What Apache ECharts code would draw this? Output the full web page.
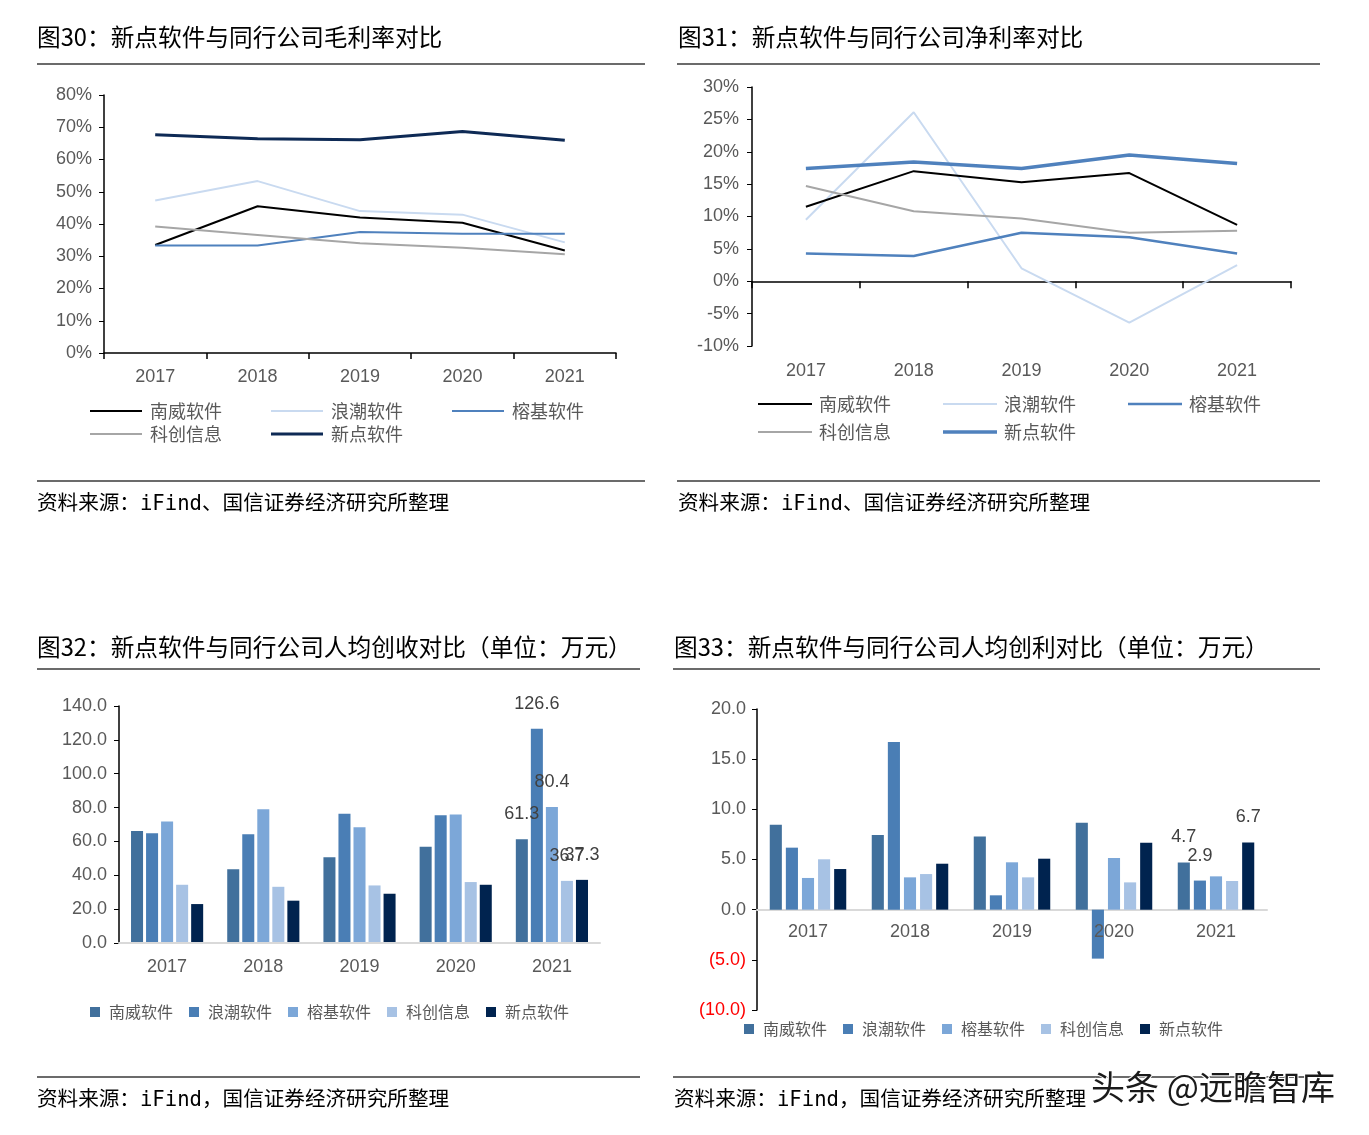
<!DOCTYPE html>
<html><head><meta charset="utf-8">
<script src="https://cdn.jsdelivr.net/npm/echarts@6/dist/echarts.min.js"></script>
<style>
html,body{margin:0;padding:0;background:#fff;}
#wrap{position:relative;width:1369px;height:1135px;overflow:hidden;}
.p{position:absolute;}
</style></head><body>
<div id="wrap">
<div id="c1" class="p" style="left:0;top:0;width:660px;height:560px"></div>
<div id="c2" class="p" style="left:660px;top:0;width:709px;height:560px"></div>
<div id="c3" class="p" style="left:0;top:560px;width:660px;height:575px"></div>
<div id="c4" class="p" style="left:660px;top:560px;width:709px;height:575px"></div>
</div>
<script>
// ---------- DATA ----------
const years = ['2017', '2018', '2019', '2020', '2021'];
const companies = ['南威软件', '浪潮软件', '榕基软件', '科创信息', '新点软件'];

// 图30 毛利率 (%)
const gm_nanwei = [33.5, 45.5, 42.0, 40.4, 31.8];
const gm_langchao = [47.3, 53.3, 44.0, 42.9, 34.3];
const gm_rongji = [33.3, 33.3, 37.5, 37.0, 37.0];
const gm_kechuang = [39.2, 36.6, 34.0, 32.6, 30.6];
const gm_xindian = [67.7, 66.4, 66.1, 68.7, 66.0];
const gmTicks = [0, 80, 10];

// 图31 净利率 (%)
const nm_nanwei = [11.5, 17.0, 15.3, 16.7, 8.7];
const nm_langchao = [9.5, 26.1, 2.0, -6.4, 2.5];
const nm_rongji = [4.3, 3.9, 7.5, 6.8, 4.3];
const nm_kechuang = [14.7, 10.8, 9.7, 7.5, 7.8];
const nm_xindian = [17.4, 18.4, 17.4, 19.5, 18.2];
const nmTicks = [-10, 30, 5];

// 图32 人均创收 (万元)
const rev_nanwei = [66.1, 43.5, 50.7, 56.8, 61.3];
const rev_langchao = [64.9, 64.3, 76.3, 75.5, 126.6];
const rev_rongji = [71.8, 79.0, 68.4, 75.9, 80.4];
const rev_kechuang = [34.4, 33.2, 34.0, 36.0, 36.7];
const rev_xindian = [23.0, 25.0, 29.1, 34.4, 37.3];
const revTicks = [0, 140, 20];
const revLabeled2021 = [true, true, true, true, true];

// 图33 人均创利 (万元)
const pro_nanwei = [8.47, 7.44, 7.28, 8.67, 4.7];
const pro_langchao = [6.18, 16.7, 1.43, -4.88, 2.9];
const pro_rongji = [3.16, 3.22, 4.72, 5.15, 3.32];
const pro_kechuang = [5.02, 3.55, 3.22, 2.72, 2.86];
const pro_xindian = [4.05, 4.58, 5.08, 6.68, 6.7];
const proTicks = [-10, 20, 5];
const proLabeled2021 = [true, true, false, false, true];

// ---------- TEXT ----------
const title30 = '图30：新点软件与同行公司毛利率对比';
const title31 = '图31：新点软件与同行公司净利率对比';
const title32 = '图32：新点软件与同行公司人均创收对比（单位：万元）';
const title33 = '图33：新点软件与同行公司人均创利对比（单位：万元）';
const source12 = '资料来源：iFind、国信证券经济研究所整理';
const source34 = '资料来源：iFind，国信证券经济研究所整理';
const watermark = '头条 @远瞻智库';

// ---------- STYLE ----------
const FONT = '"Liberation Sans", Arial, "Noto Sans CJK SC", sans-serif';
const CJK = '"Noto Sans CJK SC", "Liberation Sans", sans-serif';
const SRC = '"DejaVu Sans Mono", "Noto Sans CJK SC", monospace';
const AXC = '#595959';
const barColors = ['#41709C', '#4A7EB5', '#7CA7D8', '#A7C2E4', '#00234F'];

function frame(tx, title, lx1, lx2, ty, ly, by, sx, sy, src) {
  return [
    {type: 'text', x: tx, y: ty, style: {text: title, fontSize: 23.7, fontFamily: CJK, fill: '#000', verticalAlign: 'middle'}},
    {type: 'line', shape: {x1: lx1, y1: ly, x2: lx2, y2: ly}, style: {stroke: '#3a3a3a', lineWidth: 1.5}},
    {type: 'line', shape: {x1: lx1, y1: by, x2: lx2, y2: by}, style: {stroke: '#3a3a3a', lineWidth: 1.5}},
    {type: 'text', x: sx, y: sy, style: {text: src, fontSize: 20.6, fontFamily: SRC, fill: '#000', verticalAlign: 'middle'}}
  ];
}

function lineIcon(w, t) { return 'path://M0,0H' + w + 'V' + t + 'H0Z'; }

function lineLegends(names, thick, left, tops, iw, gap, pad) {
  const mk = (arr, top) => ({
    left: left, top: top, orient: 'horizontal', itemWidth: iw, itemHeight: 14, itemGap: gap, padding: 0,
    selectedMode: false,
    textStyle: {fontSize: 18, fontFamily: CJK, color: AXC, padding: [0, 0, 0, pad], lineHeight: 18},
    data: arr.map(n => ({name: n, icon: lineIcon(iw, thick[n] || 2)}))
  });
  return [mk(names.slice(0, 3), tops[0]), mk(names.slice(3), tops[1])];
}

function lineSeries(name, data, color, width, z) {
  return {name: name, type: 'line', data: data, color: color, symbol: 'none', z: z || 2,
    lineStyle: {color: color, width: width}};
}

// ---------- CHART 1 ----------
(function () {
  const ch = echarts.init(document.getElementById('c1'), null, {renderer: 'canvas'});
  const cols = {'南威软件': '#000000', '浪潮软件': '#C9DAF0', '榕基软件': '#4F81BD', '科创信息': '#A6A6A6', '新点软件': '#0E2A55'};
  ch.setOption({
    animation: false,
    graphic: frame(37, title30, 37, 645, 37, 64, 481, 37, 505, source12),
    grid: {left: 104, top: 95, width: 512, height: 258},
    xAxis: {type: 'category', data: years, boundaryGap: true,
      axisLine: {lineStyle: {color: '#000', width: 1.5}},
      axisTick: {show: true, length: 6, lineStyle: {color: '#000', width: 1.5}},
      axisLabel: {fontSize: 18, fontFamily: FONT, color: AXC, margin: 15}},
    yAxis: {type: 'value', min: gmTicks[0], max: gmTicks[1], interval: gmTicks[2],
      splitLine: {show: false},
      axisLine: {show: true, lineStyle: {color: '#000', width: 1.5}},
      axisTick: {show: true, length: 5, lineStyle: {color: '#000'}},
      axisLabel: {fontSize: 18, fontFamily: FONT, color: AXC, margin: 12, formatter: '{value}%'}},
    legend: lineLegends(companies, {'新点软件': 3}, 90, [402, 425], 52, 49, 3),
    series: [
      lineSeries(companies[0], gm_nanwei, cols['南威软件'], 2),
      lineSeries(companies[1], gm_langchao, cols['浪潮软件'], 2),
      lineSeries(companies[2], gm_rongji, cols['榕基软件'], 2),
      lineSeries(companies[3], gm_kechuang, cols['科创信息'], 2),
      lineSeries(companies[4], gm_xindian, cols['新点软件'], 3)
    ]
  });
})();

// ---------- CHART 2 ----------
(function () {
  const ch = echarts.init(document.getElementById('c2'), null, {renderer: 'canvas'});
  const cols = {'南威软件': '#000000', '浪潮软件': '#C9DAF0', '榕基软件': '#4F81BD', '科创信息': '#A6A6A6', '新点软件': '#4F81BD'};
  ch.setOption({
    animation: false,
    graphic: frame(18, title31, 17, 660, 37, 64, 481, 18, 505, source12),
    grid: {left: 92, top: 87, width: 539, height: 259},
    xAxis: [
      {type: 'category', data: years, boundaryGap: true, position: 'bottom',
        axisLine: {onZero: true, lineStyle: {color: '#000', width: 1.5}},
        axisTick: {show: true, length: 7, lineStyle: {color: '#000', width: 1.5}},
        axisLabel: {show: false}},
      {type: 'category', data: years, boundaryGap: true, position: 'bottom',
        axisLine: {show: false, onZero: false}, axisTick: {show: false},
        axisLabel: {fontSize: 18, fontFamily: FONT, color: AXC, margin: 16}}
    ],
    yAxis: {type: 'value', min: nmTicks[0], max: nmTicks[1], interval: nmTicks[2],
      splitLine: {show: false},
      axisLine: {show: true, onZero: false, lineStyle: {color: '#000', width: 1.5}},
      axisTick: {show: true, length: 5, lineStyle: {color: '#000'}},
      axisLabel: {fontSize: 18, fontFamily: FONT, color: AXC, margin: 13, formatter: '{value}%'}},
    legend: lineLegends(companies, {'新点软件': 3.5, '榕基软件': 2.5}, 98, [395, 423], 54, 52, 2),
    series: [
      lineSeries(companies[1], nm_langchao, cols['浪潮软件'], 2, 1),
      lineSeries(companies[0], nm_nanwei, cols['南威软件'], 2),
      lineSeries(companies[2], nm_rongji, cols['榕基软件'], 2.5),
      lineSeries(companies[3], nm_kechuang, cols['科创信息'], 2),
      lineSeries(companies[4], nm_xindian, cols['新点软件'], 3.5)
    ]
  });
})();

function barData(arr, showLast) {
  return arr.map((v, i) => (i === arr.length - 1 && showLast) ? {value: v, label: {show: true}} : v);
}

function barSeries(datas, labeled, fmt, gap) {
  return companies.map((n, k) => ({
    name: n, type: 'bar', data: barData(datas[k], labeled[k]), xAxisIndex: 0,
    color: barColors[k], barGap: gap, barCategoryGap: '25%',
    label: {show: false, position: 'top', distance: 16, fontSize: 18, fontFamily: FONT, color: '#404040',
      formatter: p => fmt(p.value)}
  }));
}

function barLegend(left, top) {
  return {left: left, top: top, itemWidth: 10, itemHeight: 10, itemGap: 16, icon: 'rect', selectedMode: false,
    padding: 0,
    textStyle: {fontSize: 16, fontFamily: CJK, color: AXC, padding: [0, 0, 0, 4]},
    data: companies};
}

// ---------- CHART 3 ----------
(function () {
  const ch = echarts.init(document.getElementById('c3'), null, {renderer: 'canvas'});
  ch.setOption({
    animation: false,
    graphic: frame(37, title32, 37, 640, 87, 109, 517, 37, 541, source34),
    grid: {left: 119, top: 146, width: 481, height: 237},
    xAxis: {type: 'category', data: years, z: 3,
      axisLine: {lineStyle: {color: '#D9D9D9', width: 2}},
      axisTick: {show: false},
      axisLabel: {fontSize: 18, fontFamily: FONT, color: AXC, margin: 15}},
    yAxis: {type: 'value', min: revTicks[0], max: revTicks[1], interval: revTicks[2],
      splitLine: {show: false},
      axisLine: {show: true, lineStyle: {color: '#000', width: 1.5}},
      axisTick: {show: true, length: 5, lineStyle: {color: '#000'}},
      axisLabel: {fontSize: 18, fontFamily: FONT, color: AXC, margin: 12, formatter: v => Number(v).toFixed(1)}},
    legend: barLegend(90, 444),
    series: barSeries([rev_nanwei, rev_langchao, rev_rongji, rev_kechuang, rev_xindian], revLabeled2021,
      v => Number(v).toFixed(1), '25%')
  });
})();

// ---------- CHART 4 ----------
(function () {
  const ch = echarts.init(document.getElementById('c4'), null, {renderer: 'canvas'});
  const g = frame(14, title33, 13, 660, 87, 109, 517, 14, 541, source34);
  g.push({type: 'text', x: 1213 - 660, y: 527, z: 100,
    style: {text: watermark, fontSize: 34, fontFamily: CJK, fill: '#1a1a1a', stroke: '#ffffff', lineWidth: 2,
      align: 'center', verticalAlign: 'middle'}});
  const gridTop = 149, gridH = 301;
  // label axis sits on the zero line: distance from grid bottom to zero
  const zeroOffset = -gridH * (0 - proTicks[0]) / (proTicks[1] - proTicks[0]);
  ch.setOption({
    animation: false,
    graphic: g,
    grid: {left: 97, top: gridTop, width: 510, height: gridH},
    xAxis: [
      {type: 'category', data: years, z: 1,
        axisLine: {onZero: true, lineStyle: {color: '#D9D9D9', width: 2}},
        axisTick: {show: false}, axisLabel: {show: false}},
      {type: 'category', data: years, z: 5, position: 'bottom', offset: zeroOffset,
        axisLine: {show: false, onZero: false}, axisTick: {show: false},
        axisLabel: {fontSize: 18, fontFamily: FONT, color: AXC, margin: 13}}
    ],
    yAxis: {type: 'value', min: proTicks[0], max: proTicks[1], interval: proTicks[2],
      splitLine: {show: false},
      axisLine: {show: true, onZero: false, lineStyle: {color: '#000', width: 1.5}},
      axisTick: {show: true, length: 5, lineStyle: {color: '#000'}},
      axisLabel: {fontSize: 18, fontFamily: FONT, margin: 11,
        color: v => Number(v) < 0 ? '#FF0000' : AXC,
        formatter: v => Number(v) < 0 ? '(' + Math.abs(v).toFixed(1) + ')' : Number(v).toFixed(1)}},
    legend: barLegend(84, 461),
    series: barSeries([pro_nanwei, pro_langchao, pro_rongji, pro_kechuang, pro_xindian], proLabeled2021,
      v => Number(v).toFixed(1), '33%')
  });
})();
</script>
</body></html>
